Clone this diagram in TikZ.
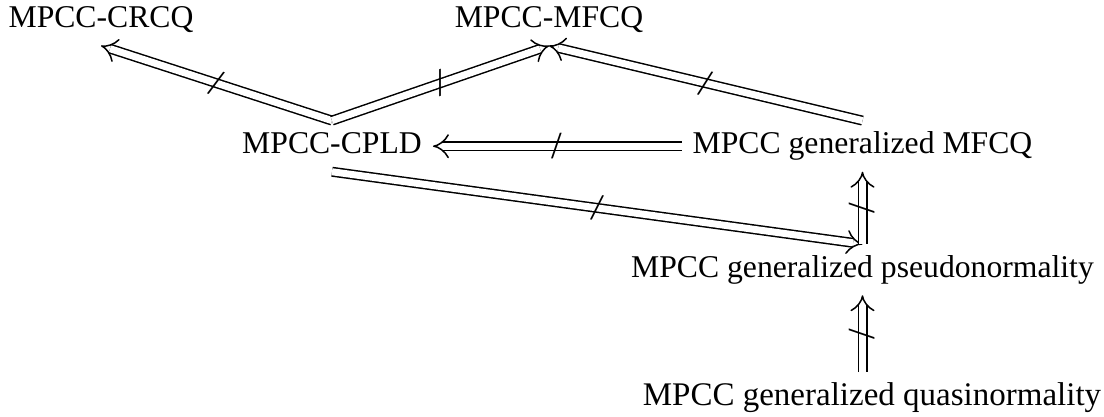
\documentclass[tikz,border=0pt]{standalone}
\usepackage{fontspec}
\setmainfont{Liberation Serif}
\usetikzlibrary{arrows.meta}
\begin{document}
\begin{tikzpicture}[x=0.3pt,y=-0.3pt,
  cond/.style={font=\fontsize{9.5}{11}\selectfont, anchor=base,
    inner sep=3.17pt, text height=6.5pt, text depth=2.1pt},
  impl/.style={double, double distance=2.1pt, line width=0.45pt,
    -{Implies[scale=1.35]}},
  negmark/.style={sloped, inner sep=0pt, font=\fontsize{11.5}{13}\selectfont}]
  \useasboundingbox (0,0) rectangle (1104,416);

  % conditions
  \node[cond] (crcq)   at (101,27.5)  {MPCC-CRCQ};
  \node[cond] (mfcq)   at (549,27.5)  {MPCC-MFCQ};
  \node[cond] (cpld)   at (332,153.5) {MPCC-CPLD};
  \node[cond] (gmfcq)  at (862.5,153.5) {MPCC generalized MFCQ};
  \node[cond] (pseudo) at (862.5,277) {MPCC generalized pseudonormality};
  \node[cond, font=\fontsize{9.9}{11}\selectfont] (quasi) at (872,405)
    {MPCC generalized quasinormality};

  % implications, each crossed out
  \draw[impl] (cpld.north) -- node[negmark]{/} (crcq.south);
  \draw[impl] (cpld.north) -- node[negmark]{/} (mfcq.south);
  \draw[impl] (gmfcq.north) -- node[negmark]{/} (mfcq.south);
  \draw[impl] (gmfcq.west) -- node[negmark]{/} (cpld.east);
  \draw[impl] (cpld.south) -- node[negmark]{/} (pseudo.north);
  \draw[impl] (pseudo.north) -- node[negmark]{/} (gmfcq.south);
  \draw[impl] (quasi.north -| pseudo.south) -- node[negmark]{/} (pseudo.south);
\end{tikzpicture}
\end{document}
